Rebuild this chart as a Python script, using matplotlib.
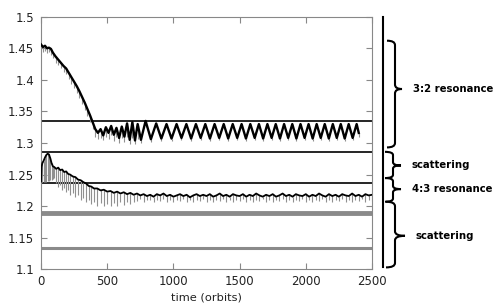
#!/usr/bin/env python3
"""
Period ratio vs time - two planets captured in 3:2 and 4:3 resonances
"""

import matplotlib
matplotlib.use('Agg')
import matplotlib.pyplot as plt
import matplotlib.transforms as mtransforms
from matplotlib.path import Path
from matplotlib.patches import PathPatch
from matplotlib.lines import Line2D
from matplotlib.ticker import FuncFormatter

# upper pair (ends in 3:2): time, smoothed value, lowest raw value at each sample
T32 = [0, 15, 30, 45, 60, 75, 90, 110, 130, 150,
       170, 190, 210, 230, 250, 270, 290, 310, 330, 350,
       370, 390, 410, 430,
       450, 470, 490, 510, 530, 550, 570, 590, 610, 630,
       650, 670, 690, 710, 730, 755,
       790, 830, 870, 909, 948, 986, 1024, 1061, 1098, 1134,
       1170, 1206, 1241, 1276, 1311, 1346, 1380, 1414, 1448, 1482,
       1515, 1548, 1581, 1614, 1646, 1678, 1710, 1742, 1773, 1805,
       1836, 1867, 1898, 1929, 1960, 1991, 2021, 2052, 2082, 2113,
       2143, 2174, 2204, 2234, 2264, 2294, 2324, 2354, 2384, 2400]
P32 = [1.456, 1.452, 1.454, 1.450, 1.451, 1.449, 1.443, 1.437, 1.432, 1.427,
       1.422, 1.418, 1.411, 1.404, 1.397, 1.390, 1.382, 1.373, 1.364, 1.354,
       1.344, 1.333, 1.322, 1.316,
       1.322, 1.312, 1.325, 1.316, 1.327, 1.313, 1.324, 1.308, 1.326, 1.310,
       1.331, 1.305, 1.333, 1.304, 1.330, 1.305,
       1.335, 1.306, 1.331, 1.307, 1.330, 1.307, 1.330, 1.308, 1.330, 1.307,
       1.330, 1.308, 1.330, 1.307, 1.330, 1.308, 1.330, 1.307, 1.330, 1.308,
       1.330, 1.307, 1.330, 1.308, 1.330, 1.307, 1.330, 1.308, 1.330, 1.307,
       1.330, 1.308, 1.330, 1.307, 1.330, 1.308, 1.330, 1.307, 1.330, 1.308,
       1.330, 1.307, 1.330, 1.308, 1.330, 1.307, 1.330, 1.308, 1.330, 1.316]
L32 = [1.450, 1.444, 1.446, 1.443, 1.444, 1.440, 1.434, 1.427, 1.423, 1.418,
       1.412, 1.409, 1.401, 1.394, 1.387, 1.379, 1.371, 1.362, 1.353, 1.343,
       1.333, 1.322, 1.310, 1.306,
       1.308, 1.305, 1.310, 1.306, 1.312, 1.303, 1.309, 1.300, 1.308, 1.301,
       1.310, 1.299, 1.308, 1.299, 1.306, 1.300,
       1.326, 1.302, 1.325, 1.303, 1.326, 1.303, 1.325, 1.304, 1.326, 1.303,
       1.325, 1.304, 1.326, 1.303, 1.325, 1.304, 1.326, 1.303, 1.325, 1.304,
       1.326, 1.303, 1.325, 1.304, 1.326, 1.303, 1.325, 1.304, 1.326, 1.303,
       1.325, 1.304, 1.326, 1.303, 1.325, 1.304, 1.326, 1.303, 1.325, 1.304,
       1.326, 1.303, 1.325, 1.304, 1.326, 1.303, 1.325, 1.304, 1.326, 1.310]

# lower pair (ends in 4:3)
T43 = [0, 4, 10, 20, 30, 40, 50, 60, 70, 80,
       90, 100, 115, 130, 145, 160, 175, 190, 205, 220,
       240, 260, 280, 300, 320, 340, 360, 380, 400, 425,
       450, 475, 500, 525, 550, 575, 600, 625, 650, 675,
       700, 725, 750, 775, 800, 825, 850, 875, 900, 925,
       950, 975, 1000, 1025, 1050, 1075, 1100, 1125, 1150, 1175,
       1200, 1225, 1250, 1275, 1300, 1325, 1350, 1375, 1400, 1425,
       1450, 1475, 1500, 1525, 1550, 1575, 1600, 1625, 1650, 1675,
       1700, 1725, 1750, 1775, 1800, 1825, 1850, 1875, 1900, 1925,
       1950, 1975, 2000, 2025, 2050, 2075, 2100, 2125, 2150, 2175,
       2200, 2225, 2250, 2275, 2300, 2325, 2350, 2375, 2400, 2425,
       2450, 2475, 2500]
P43 = [1.239, 1.262, 1.268, 1.272, 1.277, 1.281, 1.283, 1.282, 1.276, 1.268,
       1.263, 1.262, 1.259, 1.261, 1.257, 1.258, 1.254, 1.255, 1.251, 1.250,
       1.247, 1.246, 1.242, 1.241, 1.238, 1.236, 1.232, 1.231, 1.228, 1.228,
       1.225, 1.226, 1.223, 1.224, 1.221, 1.223, 1.220, 1.222, 1.219, 1.221,
       1.218, 1.220, 1.217, 1.219, 1.216, 1.218, 1.215, 1.219, 1.217, 1.220,
       1.216, 1.218, 1.215, 1.217, 1.219, 1.216, 1.218, 1.214, 1.217, 1.219,
       1.216, 1.218, 1.216, 1.219, 1.215, 1.217, 1.220, 1.216, 1.218, 1.215,
       1.219, 1.217, 1.216, 1.219, 1.215, 1.218, 1.216, 1.220, 1.217, 1.215,
       1.218, 1.216, 1.219, 1.215, 1.217, 1.220, 1.216, 1.218, 1.215, 1.219,
       1.217, 1.216, 1.219, 1.215, 1.218, 1.216, 1.220, 1.217, 1.215, 1.219,
       1.216, 1.218, 1.215, 1.219, 1.217, 1.216, 1.220, 1.216, 1.218, 1.215,
       1.219, 1.217, 1.218]
L43 = [1.237, 1.238, 1.238, 1.238, 1.239, 1.239, 1.240, 1.240, 1.241, 1.242,
       1.243, 1.244, 1.236, 1.231, 1.234, 1.226, 1.229, 1.222, 1.225, 1.218,
       1.221, 1.214, 1.217, 1.210, 1.213, 1.206, 1.210, 1.203, 1.207, 1.201,
       1.205, 1.200, 1.204, 1.200, 1.205, 1.201, 1.206, 1.202, 1.206, 1.203,
       1.207, 1.208, 1.211, 1.207, 1.210, 1.209, 1.206, 1.210, 1.208, 1.211,
       1.207, 1.209, 1.206, 1.210, 1.208, 1.211, 1.207, 1.209, 1.206, 1.210,
       1.208, 1.211, 1.207, 1.209, 1.206, 1.210, 1.208, 1.211, 1.207, 1.209,
       1.206, 1.210, 1.208, 1.211, 1.207, 1.209, 1.206, 1.210, 1.208, 1.211,
       1.207, 1.209, 1.206, 1.210, 1.208, 1.211, 1.207, 1.209, 1.206, 1.210,
       1.208, 1.211, 1.207, 1.209, 1.206, 1.210, 1.208, 1.211, 1.207, 1.209,
       1.206, 1.210, 1.208, 1.211, 1.207, 1.209, 1.206, 1.210, 1.208, 1.211,
       1.207, 1.209, 1.208]

# horizontal reference levels
BLACK_LEVELS = [1.335, 1.286, 1.237]
GRAY_LEVELS = [1.189, 1.133]
GRAY_WIDTHS = [3.5, 2.2]

# braces on the right: (label, top, bottom, tip)
BANDS = ['3:2 resonance', 'scattering', '4:3 resonance', 'scattering']
BAND_TOP = [1.462, 1.286, 1.2445, 1.207]
BAND_BOT = [1.293, 1.2445, 1.207, 1.103]
BAND_TIP = [1.3855, 1.2645, 1.227, 1.153]

XTICKS = [0, 500, 1000, 1500, 2000, 2500]
YTICKS = [1.1, 1.15, 1.2, 1.25, 1.3, 1.35, 1.4, 1.45, 1.5]

W, H = 500, 307


def draw_brace(fig, trans, xh, xs, xt, ytop, ybot, ytip, hook):
    """Curly brace '}' with x in figure fraction and y in data units"""
    verts = [(xh, ytop), (xs, ytop), (xs, ytop - hook),
             (xs, ytip + hook), (xs, ytip), (xt, ytip),
             (xs, ytip), (xs, ytip - hook),
             (xs, ybot + hook), (xs, ybot), (xh, ybot)]
    codes = [Path.MOVETO, Path.CURVE3, Path.CURVE3,
             Path.LINETO, Path.CURVE3, Path.CURVE3,
             Path.CURVE3, Path.CURVE3,
             Path.LINETO, Path.CURVE3, Path.CURVE3]
    patch = PathPatch(Path(verts, codes), transform=trans, facecolor='none',
                      edgecolor='black', linewidth=1.5, clip_on=False)
    fig.add_artist(patch)


def main():
    plt.rcParams['font.family'] = ['DejaVu Sans']
    fig = plt.figure(figsize=(W / 100, H / 100), dpi=100)
    ax = fig.add_axes([41 / W, 1 - 269.3 / H, 331 / W, 252.6 / H])

    # reference levels
    for y in BLACK_LEVELS:
        ax.axhline(y, color='black', linewidth=1.2, zorder=2)
    for y, lw in zip(GRAY_LEVELS, GRAY_WIDTHS):
        ax.axhline(y, color='#8a8a8a', linewidth=lw, zorder=2)

    # raw data (gray spikes) and smoothed curves (black)
    ax.vlines(T32, L32, P32, color='#909090', linewidth=0.8, zorder=3)
    ax.vlines(T43, L43, P43, color='#909090', linewidth=0.8, zorder=3)
    ax.plot(T32, P32, color='black', linewidth=1.7, zorder=4)
    ax.plot(T43, P43, color='black', linewidth=1.3, zorder=4)

    ax.set_xlim(0, 2500)
    ax.set_ylim(1.1, 1.5)
    ax.set_xticks(XTICKS)
    ax.set_yticks(YTICKS)
    ax.yaxis.set_major_formatter(FuncFormatter(lambda v, p: f'{v:g}'))
    ax.tick_params(direction='in', length=4, width=0.8, color='#888888',
                   top=True, right=True, labelsize=8.5, labelcolor='#222222')
    ax.tick_params(axis='y', pad=5)
    ax.tick_params(axis='x', pad=4)
    for s in ax.spines.values():
        s.set_color('#888888')
        s.set_linewidth(0.8)
    ax.set_xlabel('time (orbits)', fontsize=8.2, labelpad=3, color='#222222')

    # bracket annotation on the right
    trans = mtransforms.blended_transform_factory(fig.transFigure, ax.transData)
    fig.add_artist(Line2D([383 / W, 383 / W], [1.5, 1.103], transform=trans,
                          color='black', linewidth=1.5, clip_on=False))
    hooks = [(387, 395, 402), (385, 393, 401), (385, 393, 401), (386, 395, 405)]
    for (xh, xs, xt), label, yt, yb, yc in zip(hooks, BANDS, BAND_TOP,
                                               BAND_BOT, BAND_TIP):
        hk = 0.007 if yt - yb > 0.06 else 0.005
        draw_brace(fig, trans, xh / W, xs / W, xt / W, yt, yb, yc, hk)
        fig.text((xt + 11) / W, yc, label, transform=trans, ha='left',
                 va='center', fontsize=7.3, fontweight='bold')

    plt.savefig('out.png', dpi=100)
    plt.close()


if __name__ == "__main__":
    main()
